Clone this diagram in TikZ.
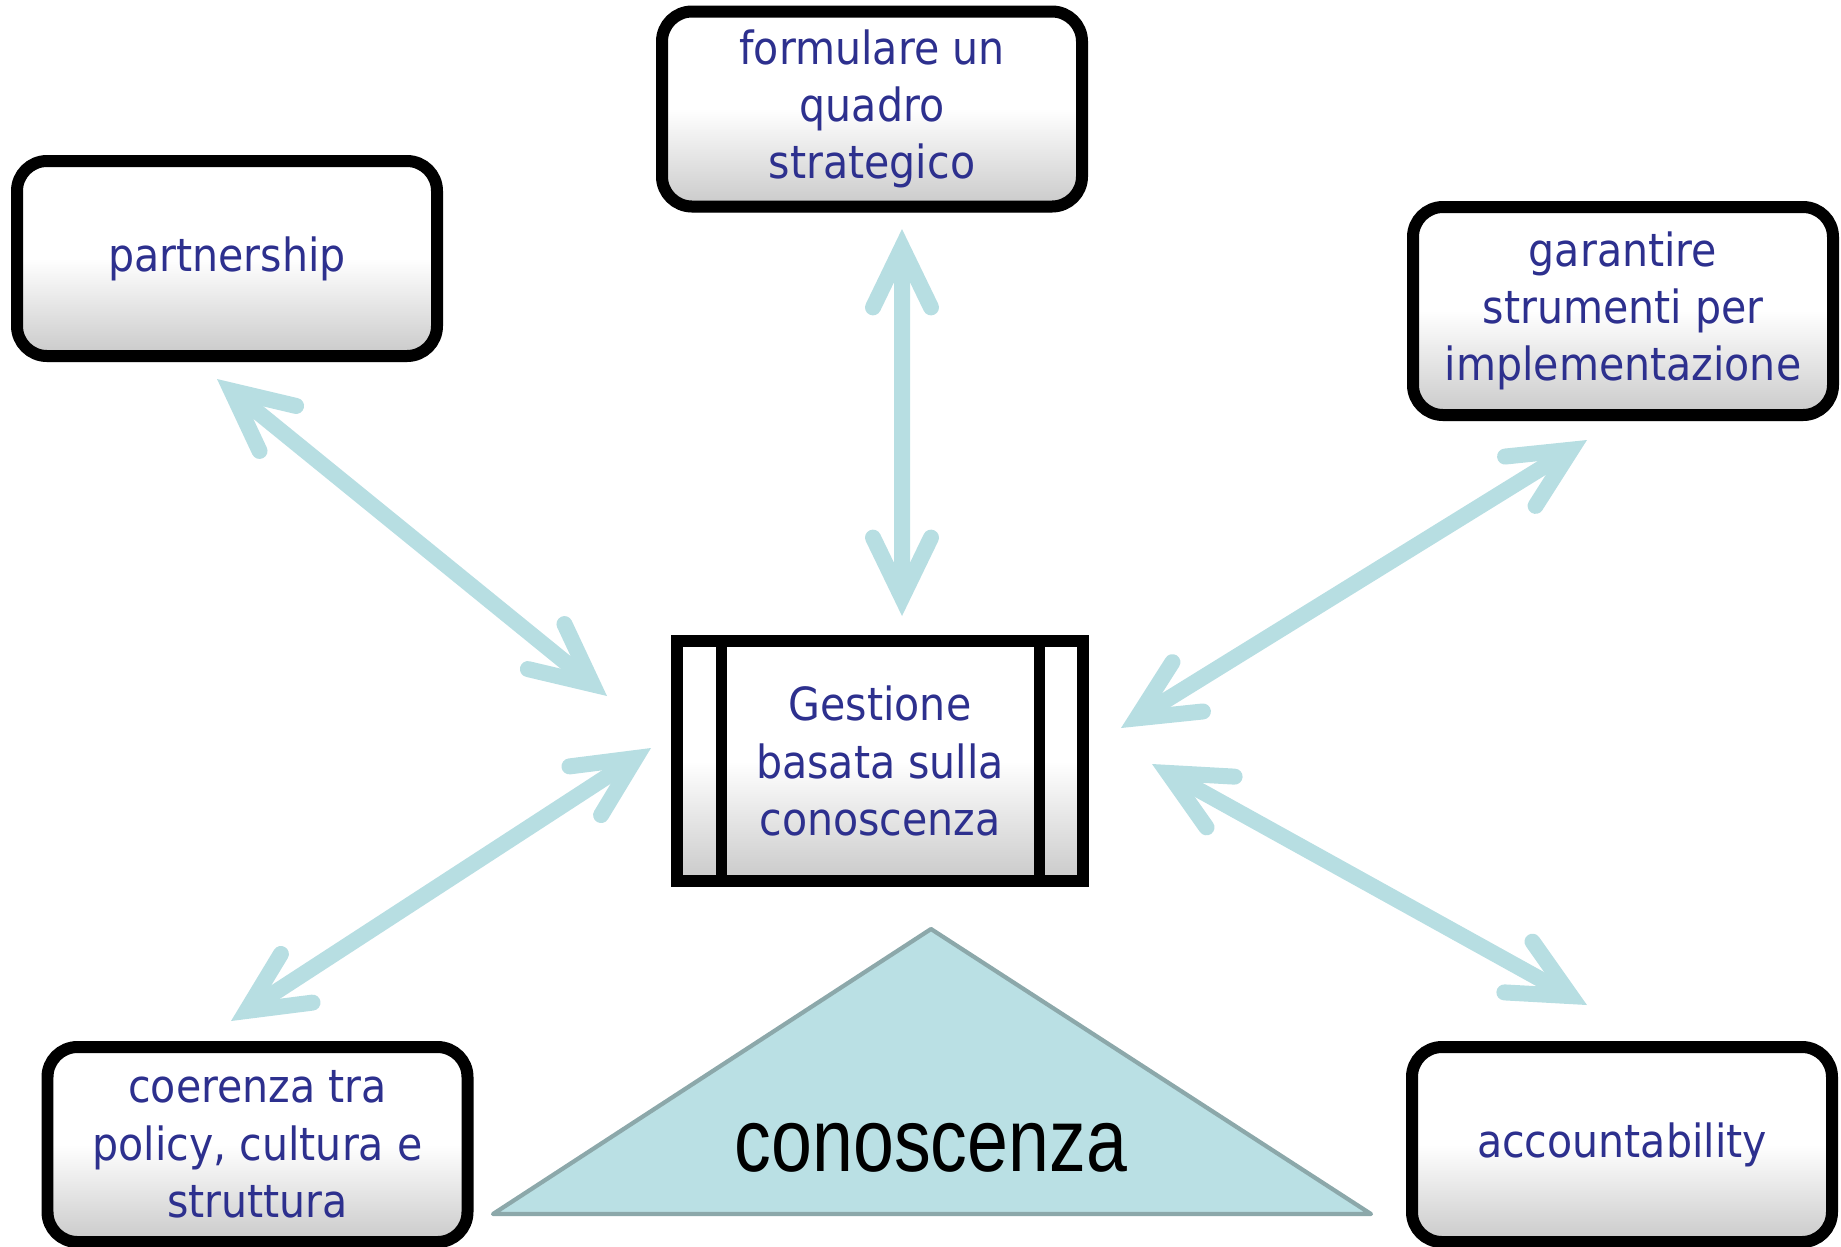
\documentclass[tikz,border=0pt]{standalone}
\usepackage{fontspec}
\setmainfont{Liberation Sans}
\newfontfamily\boxfont[FakeStretch=0.9]{DejaVu Sans}
\newfontfamily\basefont[FakeStretch=0.82]{Liberation Sans}
\usetikzlibrary{arrows.meta,shadows}
\definecolor{boxblue}{RGB}{45,48,142}
\definecolor{linkblue}{RGB}{183,222,226}
\definecolor{basefill}{RGB}{186,224,228}
\definecolor{baseedge}{RGB}{140,168,170}
\tikzset{
	goalbox/.style={draw=black, line width=0.12cm, rounded corners=0.3cm, top color=white, bottom color=black!21, middle color=white, minimum width=4.2cm, minimum height=1.95cm, inner sep=0pt, align=center, text=boxblue, font=\boxfont\fontsize{13}{16.3}\selectfont, drop shadow={opacity=0.25, shadow xshift=0pt, shadow yshift=-0.06cm}},
	hubbox/.style={goalbox, sharp corners, minimum width=4.06cm, minimum height=2.4cm},
	link/.style={draw=linkblue, line width=0.16cm, >={Straight Barb[length=0.6cm, width=0.58cm, line cap=round, line join=miter]}, <->},
}

\begin{document}
\begin{tikzpicture}
				\useasboundingbox (0,0) rectangle (18.41,-12.46);
				
				\node[goalbox] (part) at (2.27,-2.585) {partnership};
				\node[goalbox] (strat) at (8.72,-1.09) {formulare un\\quadro\\strategico};
				\node[goalbox, minimum height=2.08cm] (tools) at (16.23,-3.11) {garantire\\strumenti per\\implementazione};
				\node[goalbox] (coher) at (2.575,-11.445) {coerenza tra\\policy, cultura e\\struttura};
				\node[goalbox] (acc) at (16.22,-11.445) {accountability};
				
				\node[hubbox] (hub) at (8.80,-7.61) {Gestione\\basata sulla\\conoscenza};
				\draw[line width=0.11cm] ([xshift=0.5cm]hub.north west) -- ([xshift=0.5cm]hub.south west);
				\draw[line width=0.11cm] ([xshift=-0.5cm]hub.north east) -- ([xshift=-0.5cm]hub.south east);
				
				\draw[link] ([shift={(-0.10,-0.17)}]part.south) -- ([shift={(-0.64,0.65)}]hub.west);
				\draw[link] ([shift={(0.30,-0.165)}]strat.south) -- ([shift={(0.22,0.19)}]hub.north);
				\draw[link] ([shift={(-0.36,-0.19)}]tools.south) -- ([shift={(0.32,0.33)}]hub.east);
				\draw[link] ([shift={(-0.20,0.13)}]hub.west) -- ([shift={(-0.265,0.20)}]coher.north);
				\draw[link] ([shift={(0.63,-0.03)}]hub.east) -- ([shift={(-0.35,0.36)}]acc.north);
				
				\draw[fill=basefill, draw=baseedge, line width=1.2pt, line join=round] (4.93,-12.14) coordinate (bl) -- (9.31,-9.29) coordinate (apex) -- (13.71,-12.14) coordinate (br) -- cycle;
				\node[font=\basefont\fontsize{25.5}{30}\selectfont] (know) at (9.31,-11.48) {conoscenza};
\end{tikzpicture}
\end{document}
